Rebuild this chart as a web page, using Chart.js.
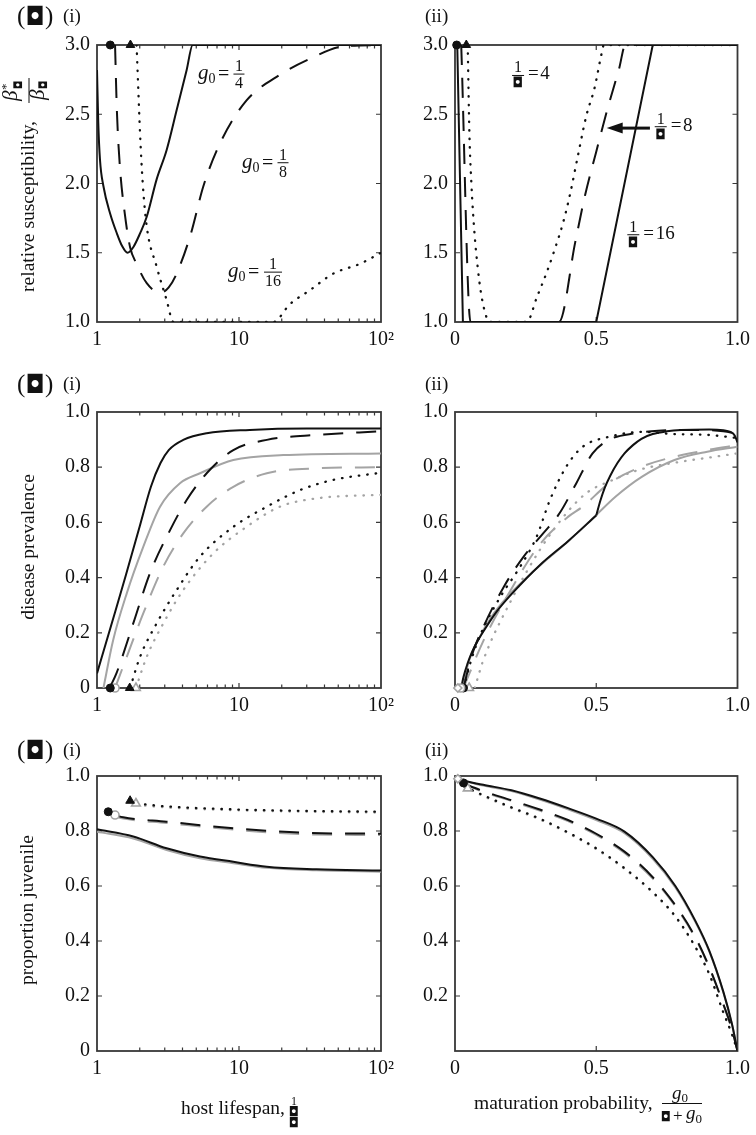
<!DOCTYPE html>
<html>
<head>
<meta charset="utf-8">
<script src="https://cdn.jsdelivr.net/npm/chart.js@4.4.1/dist/chart.umd.min.js"></script>
<style>
html, body { margin: 0; padding: 0; background: #fff; }
#wrap { position: relative; width: 756px; height: 1135px; }
#wrap canvas { position: absolute; left: 0; top: 0; }
</style>
</head>
<body>
<div id="wrap">
<canvas id="a1" width="756" height="1135"></canvas>
<canvas id="a2" width="756" height="1135"></canvas>
<canvas id="b1" width="756" height="1135"></canvas>
<canvas id="b2" width="756" height="1135"></canvas>
<canvas id="c1" width="756" height="1135"></canvas>
<canvas id="c2" width="756" height="1135"></canvas>
</div>
<script>
// Tick values / labels
const logTickValues = [1, 10, 100];
const logTickText = ['1', '10', '10\u00b2'];
const logMinorTicks = [2, 3, 4, 5, 6, 7, 8, 9, 20, 30, 40, 50, 60, 70, 80, 90];

// (a)(i) relative susceptibility vs host lifespan
const a1SolidX = [1, 1.02, 1.05, 1.11, 1.24, 1.38, 1.5, 1.64, 1.8, 2.01, 2.24, 2.63, 3.09, 3.64, 4.28, 4.72, 100];
const a1SolidY = [2.82, 2.45, 2.17, 1.98, 1.78, 1.64, 1.55, 1.50, 1.54, 1.64, 1.76, 2.03, 2.24, 2.53, 2.82, 3.0, 3.0];
const a1DashX = [1.34, 1.38, 1.45, 1.57, 1.71, 1.90, 2.24, 2.78, 3.2, 3.64, 4.59, 5.61, 7.35, 11.3, 18.4, 31.6, 54.3, 100];
const a1DashY = [3.0, 2.53, 2.12, 1.78, 1.54, 1.42, 1.28, 1.21, 1.25, 1.35, 1.64, 1.98, 2.29, 2.60, 2.77, 2.90, 2.99, 3.0];
const a1DotX = [1.90, 1.95, 2.01, 2.1, 2.24, 2.63, 3.09, 3.45, 17.4, 22.9, 31.6, 46.2, 71.1, 100];
const a1DotY = [3.0, 2.7, 2.36, 2.0, 1.69, 1.40, 1.16, 1.0, 1.0, 1.13, 1.23, 1.35, 1.42, 1.50];
const a1MarkX = [1.24, 1.72];
const a1MarkY = [3.0, 3.0];

// (a)(ii) relative susceptibility vs maturation probability
const a2SolidX = [0.008, 0.028, 0.5, 0.70, 1.0];
const a2SolidY = [3.0, 1.0, 1.0, 3.0, 3.0];
const a2DashX = [0.022, 0.055, 0.368, 0.426, 0.461, 0.50, 0.540, 0.581, 0.603, 1.0];
const a2DashY = [3.0, 1.0, 1.0, 1.58, 1.92, 2.23, 2.54, 2.83, 3.0, 3.0];
const a2DotX = [0.045, 0.051, 0.058, 0.069, 0.08, 0.092, 0.105, 0.121, 0.254, 0.29, 0.325, 0.354, 0.383, 0.407, 0.436, 0.465, 0.494, 0.517, 0.527, 1.0];
const a2DotY = [3.0, 2.36, 2.0, 1.64, 1.4, 1.21, 1.08, 1.0, 1.0, 1.18, 1.36, 1.53, 1.72, 1.92, 2.21, 2.49, 2.69, 2.92, 3.0, 3.0];
const a2MarkX = [0.006, 0.04];
const a2MarkY = [3.0, 3.0];

// (b)(i) disease prevalence vs host lifespan
const b1SolidX = [1, 1.25, 1.6, 2.0, 2.4, 2.8, 3.2, 4.05, 5.92, 11.9, 30, 100];
const b1SolidY = [0.053, 0.222, 0.41, 0.586, 0.73, 0.815, 0.862, 0.899, 0.923, 0.935, 0.94, 0.94];
const b1GreySolidX = [1.11, 1.3, 1.62, 2.12, 2.78, 3.84, 5.31, 9.12, 20.5, 100];
const b1GreySolidY = [0, 0.174, 0.343, 0.512, 0.657, 0.742, 0.778, 0.826, 0.844, 0.85];
const b1DashX = [1.24, 1.37, 1.8, 2.36, 3.27, 4.28, 5.92, 9.12, 15.7, 35.2, 100];
const b1DashY = [0.005, 0.053, 0.234, 0.416, 0.572, 0.681, 0.778, 0.862, 0.899, 0.917, 0.93];
const b1GreyDashX = [1.34, 1.62, 2.12, 2.93, 4.05, 5.92, 9.12, 15.7, 35.2, 100];
const b1GreyDashY = [0, 0.113, 0.271, 0.44, 0.56, 0.657, 0.729, 0.778, 0.796, 0.80];
const b1DotX = [1.71, 2.01, 2.63, 3.64, 5.31, 9.12, 15.7, 26.9, 46.2, 100];
const b1DotY = [0, 0.113, 0.234, 0.355, 0.476, 0.584, 0.657, 0.717, 0.754, 0.78];
const b1GreyDotX = [1.88, 2.24, 2.93, 4.05, 6.6, 11.3, 19.4, 35.2, 100];
const b1GreyDotY = [0, 0.113, 0.234, 0.355, 0.488, 0.584, 0.657, 0.687, 0.70];
const b1MarkX = [1.24, 1.34, 1.70, 1.88];
const b1MarkY = [0, 0, 0, 0];

// (b)(ii) disease prevalence vs maturation probability (black solid has a corner at 0.5)
const b2SolidLowX = [0.022, 0.03, 0.045, 0.06, 0.08, 0.11, 0.15, 0.2, 0.3, 0.4, 0.5];
const b2SolidLowY = [0, 0.04, 0.09, 0.13, 0.17, 0.22, 0.28, 0.34, 0.445, 0.532, 0.625];
const b2SolidHighX = [0.5, 0.515, 0.53, 0.55, 0.575, 0.6, 0.63, 0.66, 0.7, 0.75, 0.8, 0.9, 0.95, 0.975, 0.99, 1.0];
const b2SolidHighY = [0.625, 0.68, 0.725, 0.77, 0.815, 0.85, 0.88, 0.903, 0.92, 0.93, 0.935, 0.937, 0.934, 0.928, 0.915, 0.89];
const b2GreySolidX = [0.025, 0.05, 0.08, 0.127, 0.185, 0.254, 0.336, 0.405, 0.498, 0.568, 0.661, 0.777, 0.893, 1.0];
const b2GreySolidY = [0, 0.10, 0.17, 0.255, 0.33, 0.40, 0.475, 0.535, 0.625, 0.693, 0.765, 0.826, 0.856, 0.874];
const b2DashX = [0.03, 0.06, 0.1, 0.173, 0.243, 0.312, 0.37, 0.429, 0.487, 0.545, 0.638, 0.719, 0.85, 0.95, 1.0];
const b2DashY = [0, 0.12, 0.22, 0.367, 0.476, 0.560, 0.633, 0.741, 0.850, 0.899, 0.923, 0.932, 0.935, 0.93, 0.92];
const b2GreyDashX = [0.03, 0.1, 0.2, 0.3, 0.4, 0.452, 0.545, 0.661, 0.777, 0.893, 1.0];
const b2GreyDashY = [0, 0.17, 0.36, 0.52, 0.62, 0.657, 0.741, 0.802, 0.838, 0.862, 0.88];
const b2DotX = [0.03, 0.057, 0.092, 0.161, 0.231, 0.289, 0.336, 0.394, 0.452, 0.545, 0.661, 0.777, 0.893, 1.0];
const b2DotY = [0, 0.10, 0.198, 0.331, 0.44, 0.548, 0.681, 0.802, 0.874, 0.910, 0.928, 0.920, 0.917, 0.906];
const b2GreyDotX = [0.07, 0.1, 0.2, 0.3, 0.4, 0.47, 0.55, 0.65, 0.8, 0.9, 1.0];
const b2GreyDotY = [0, 0.1, 0.32, 0.50, 0.64, 0.71, 0.75, 0.79, 0.82, 0.835, 0.85];
const b2MarkX = [0.01, 0.02, 0.03, 0.05];
const b2MarkY = [0, 0, 0, 0];

// (c)(i) proportion juvenile vs host lifespan
const c1SolidX = [1, 1.8, 3.09, 5.31, 9.12, 15.7, 35.2, 100];
const c1SolidY = [0.806, 0.78, 0.737, 0.707, 0.688, 0.67, 0.661, 0.656];
const c1GreySolidY = [0.797, 0.773, 0.731, 0.701, 0.683, 0.666, 0.657, 0.652];
const c1DashX = [1.34, 1.53, 3.09, 9.12, 26.9, 100];
const c1DashY = [0.858, 0.85, 0.834, 0.81, 0.794, 0.79];
const c1GreyDashY = [0.852, 0.845, 0.829, 0.805, 0.789, 0.785];
const c1DotX = [1.9, 3, 10, 30, 100];
const c1DotY = [0.90, 0.89, 0.878, 0.873, 0.87];
const c1GreyDotY = [0.895, 0.886, 0.875, 0.87, 0.867];
const c1MarkX = [1.2, 1.34, 1.71, 1.88];
const c1MarkY = [0.87, 0.858, 0.91, 0.90];

// (c)(ii) proportion juvenile vs maturation probability
const c2CurveX = [0.1, 0.2, 0.3, 0.4, 0.5, 0.6, 0.7, 0.78, 0.85, 0.9, 0.95, 0.98, 1.0];
const c2SolidY = [0.968, 0.948, 0.918, 0.883, 0.845, 0.798, 0.705, 0.60, 0.475, 0.365, 0.215, 0.1, 0];
const c2GreySolidY = [0.965, 0.945, 0.914, 0.879, 0.840, 0.792, 0.699, 0.595, 0.471, 0.362, 0.213, 0.099, 0];
const c2DashY = [0.945, 0.912, 0.878, 0.84, 0.79, 0.725, 0.632, 0.53, 0.415, 0.305, 0.17, 0.08, 0];
const c2GreyDashY = [0.942, 0.909, 0.874, 0.836, 0.786, 0.72, 0.627, 0.526, 0.412, 0.303, 0.169, 0.079, 0];
const c2DotY = [0.93, 0.886, 0.845, 0.795, 0.737, 0.665, 0.578, 0.49, 0.38, 0.28, 0.14, 0.062, 0];
const c2GreyDotY = [0.927, 0.883, 0.842, 0.792, 0.734, 0.662, 0.575, 0.487, 0.378, 0.278, 0.139, 0.061, 0];
const c2StartX = [0.01, 0.022, 0.034];
const c2StartY = [0.988, 0.976, 0.961];
const c2MarkX = [0.01, 0.03, 0.045];
const c2MarkY = [0.99, 0.975, 0.955];

// ---- styling helpers ----
const BLACK = '#111111';
const GREY = '#a4a4a4';
const FRAME = '#383838';
const SERIF = '"Liberation Serif", "Times New Roman", serif';
const YW = 45, XH = 32;

function pts(xs, ys) {
    return xs.map((x, i) => ({ x: x, y: ys[i] }));
}

function curve(xs, ys, color, kind, smooth) {
    return {
        data: pts(xs, ys),
        borderColor: color,
        borderWidth: kind === 'dot' ? 2.3 : 2,
        borderDash: kind === 'dash' ? [20, 13] : (kind === 'dot' ? [0.5, 8] : []),
        borderCapStyle: kind === 'dot' ? 'round' : 'butt',
        borderJoinStyle: 'round',
        pointRadius: 0,
        fill: false,
        tension: 0,
        cubicInterpolationMode: smooth === false ? 'default' : 'monotone',
        order: color === GREY ? 2 : 1
    };
}

function marks(xs, ys, styles, fills) {
    return xs.map((x, i) => {
        const filled = fills[i];
        const col = filled ? BLACK : GREY;
        return {
            data: [{ x: x, y: ys[i] }],
            showLine: false,
            pointStyle: styles[i],
            pointRadius: styles[i] === 'triangle' ? 5 : 4,
            pointBackgroundColor: filled ? BLACK : '#ffffff',
            pointBorderColor: col,
            pointBorderWidth: filled ? 1 : 1.6,
            clip: false,
            order: 0
        };
    });
}

function font(size, italic) {
    return (italic ? 'italic ' : '') + size + 'px ' + SERIF;
}

function put(ctx, s, x, y, f, align) {
    ctx.font = f;
    ctx.textAlign = align || 'left';
    ctx.textBaseline = 'alphabetic';
    ctx.fillText(s, x, y);
    return ctx.measureText(s).width;
}

// the missing-glyph box used in the source figure
function tofu(ctx, cx, baseY, size) {
    ctx.font = size + 'px "DejaVu Sans"';
    ctx.textAlign = 'center';
    ctx.textBaseline = 'alphabetic';
    ctx.fillText('\u25d8', cx, baseY);
}

function hbar(ctx, x0, x1, y) {
    ctx.beginPath();
    ctx.lineWidth = 1;
    ctx.strokeStyle = '#111';
    ctx.moveTo(x0, y);
    ctx.lineTo(x1, y);
    ctx.stroke();
}

function panelTag(ctx, top, subX) {
    ctx.fillStyle = '#111';
    put(ctx, '(', 17, top + 22, font(25));
    tofu(ctx, 35.5, top + 23, 25);
    put(ctx, ')', 45, top + 22, font(25));
    put(ctx, '(i)', 63, top + 20, font(19));
    put(ctx, '(ii)', subX, top + 20, font(19));
}

function yTitle(ctx, bx, cy, s) {
    ctx.save();
    ctx.translate(bx, cy);
    ctx.rotate(-Math.PI / 2);
    ctx.fillStyle = '#111';
    put(ctx, s, 0, 0, font(19.5), 'center');
    ctx.restore();
}

// frame with inward ticks on all four sides
const framePlugin = {
    id: 'frame',
    beforeDatasetsDraw(chart) {
        const { ctx, chartArea: a, scales } = chart;
        const xs = scales.x, ys = scales.y;
        ctx.save();
        ctx.strokeStyle = FRAME;
        ctx.lineWidth = 1.2;
        ctx.beginPath();
        xs.ticks.forEach(t => {
            const px = xs.getPixelForValue(t.value);
            if (px <= a.left + 1 || px >= a.right - 1) return;
            let len = 5;
            if (xs.type === 'logarithmic') {
                const l = Math.log10(t.value);
                if (Math.abs(l - Math.round(l)) > 1e-9) len = 3.5;
            }
            ctx.moveTo(px, a.bottom); ctx.lineTo(px, a.bottom - len);
            ctx.moveTo(px, a.top); ctx.lineTo(px, a.top + len);
        });
        ys.ticks.forEach(t => {
            const py = ys.getPixelForValue(t.value);
            if (py <= a.top + 1 || py >= a.bottom - 1) return;
            ctx.moveTo(a.left, py); ctx.lineTo(a.left + 5, py);
            ctx.moveTo(a.right, py); ctx.lineTo(a.right - 5, py);
        });
        ctx.stroke();
        ctx.lineWidth = 1.8;
        ctx.strokeRect(a.left, a.top, a.right - a.left, a.bottom - a.top);
        ctx.restore();
    }
};

const tickFont = { family: SERIF, size: 20 };

function logAxis() {
    return {
        type: 'logarithmic', min: 1, max: 100,
        afterBuildTicks: s => {
            s.ticks = logTickValues.concat(logMinorTicks).sort((p, q) => p - q).map(v => ({ value: v }));
        },
        afterFit: s => { s.height = XH; },
        grid: { display: false, drawTicks: false },
        border: { display: false },
        ticks: {
            autoSkip: false, maxRotation: 0, padding: 6, color: '#111',
            font: tickFont,
            callback: v => {
                const i = logTickValues.indexOf(v);
                return i >= 0 ? logTickText[i] : '';
            }
        }
    };
}

function probAxis() {
    return {
        type: 'linear', min: 0, max: 1,
        afterFit: s => { s.height = XH; },
        grid: { display: false, drawTicks: false },
        border: { display: false },
        ticks: {
            stepSize: 0.5, autoSkip: false, maxRotation: 0, padding: 6, color: '#111',
            font: tickFont,
            callback: v => (Math.abs(v) < 1e-9 ? '0' : v.toFixed(1))
        }
    };
}

function valueAxis(min, max, step, showZero) {
    return {
        type: 'linear', min: min, max: max,
        afterFit: s => { s.width = YW; },
        grid: { display: false, drawTicks: false },
        border: { display: false },
        ticks: {
            stepSize: step, autoSkip: false, padding: 7, color: '#111',
            font: tickFont,
            callback: v => (Math.abs(v) < 1e-9 ? (showZero ? '0' : '') : v.toFixed(1))
        }
    };
}

function makeChart(id, area, xAxis, yAxis, datasets, decorate) {
    const [x0, y0, x1, y1] = area;
    return new Chart(document.getElementById(id), {
        type: 'line',
        data: { datasets: datasets },
        options: {
            responsive: false,
            animation: false,
            events: [],
            layout: { padding: { left: x0 - YW, top: y0, right: 756 - x1, bottom: 1135 - y1 - XH } },
            plugins: { legend: { display: false }, tooltip: { enabled: false } },
            scales: { x: xAxis, y: yAxis }
        },
        plugins: [framePlugin, { id: 'notes', afterDraw: decorate }]
    });
}

// ---- annotations ----
function g0Label(chart, xv, yv, den) {
    const ctx = chart.ctx;
    const px = chart.scales.x.getPixelForValue(xv);
    const by = chart.scales.y.getPixelForValue(yv);
    ctx.save();
    ctx.fillStyle = '#111';
    put(ctx, 'g', px, by + 5, font(21, true));
    put(ctx, '0', px + 10.5, by + 9, font(14));
    put(ctx, '=', px + 20, by + 6, font(20));
    const wide = den.length > 1;
    const cx = px + (wide ? 45 : 41);
    put(ctx, '1', cx, by - 3, font(16), 'center');
    put(ctx, den, cx, by + 14, font(16), 'center');
    hbar(ctx, cx - (wide ? 9 : 5.5), cx + (wide ? 9 : 5.5), by);
    ctx.restore();
}

function muLabel(chart, xv, yv, val) {
    const ctx = chart.ctx;
    const px = chart.scales.x.getPixelForValue(xv);
    const by = chart.scales.y.getPixelForValue(yv);
    ctx.save();
    ctx.fillStyle = '#111';
    const cx = px + 6;
    put(ctx, '1', cx, by - 3, font(16), 'center');
    hbar(ctx, cx - 6, cx + 6, by);
    tofu(ctx, cx, by + 12, 14);
    put(ctx, '=\u200a' + val, px + 16, by + 4, font(19));
    ctx.restore();
}

function drawA1(chart) {
    const ctx = chart.ctx;
    panelTag(ctx, 2, 425);
    g0Label(chart, 5.14, 2.79, '4');
    g0Label(chart, 10.5, 2.15, '8');
    g0Label(chart, 8.37, 1.36, '16');
    // y title with fraction
    ctx.save();
    ctx.translate(34, 183);
    ctx.rotate(-Math.PI / 2);
    ctx.fillStyle = '#111';
    put(ctx, 'relative susceptibility,', 62, 0, font(19.5), 'right');
    const u = 92;
    put(ctx, '\u03b2', u - 10, -17, font(21, true));
    put(ctx, '*', u + 1, -24, font(13));
    tofu(ctx, u + 6, -12, 11);
    hbar(ctx, u - 12, u + 13, -5);
    put(ctx, '\u03b2', u - 9, 10, font(21, true));
    tofu(ctx, u + 6, 13, 11);
    ctx.restore();
}

function drawA2(chart) {
    const ctx = chart.ctx;
    muLabel(chart, 0.202, 2.78, '4');
    muLabel(chart, 0.707, 2.41, '8');
    muLabel(chart, 0.61, 1.63, '16');
    // arrow pointing at the dashed curve
    const xs = chart.scales.x, ys = chart.scales.y;
    const tail = xs.getPixelForValue(0.69), tip = xs.getPixelForValue(0.537);
    const py = ys.getPixelForValue(2.4);
    ctx.save();
    ctx.strokeStyle = '#111';
    ctx.fillStyle = '#111';
    ctx.lineWidth = 3;
    ctx.beginPath();
    ctx.moveTo(tail, py);
    ctx.lineTo(tip + 12, py);
    ctx.stroke();
    ctx.beginPath();
    ctx.moveTo(tip, py);
    ctx.lineTo(tip + 16, py - 5.5);
    ctx.lineTo(tip + 16, py + 5.5);
    ctx.closePath();
    ctx.fill();
    ctx.restore();
}

function drawB1(chart) {
    panelTag(chart.ctx, 370, 425);
    yTitle(chart.ctx, 34, 547, 'disease prevalence');
}

function drawB2() {}

function drawC1(chart) {
    const ctx = chart.ctx;
    panelTag(ctx, 736, 425);
    yTitle(ctx, 33, 910, 'proportion juvenile');
    ctx.save();
    ctx.fillStyle = '#111';
    put(ctx, 'host lifespan,', 181, 1114, font(19.5));
    put(ctx, '1', 294, 1105, font(12), 'center');
    tofu(ctx, 294, 1116, 13);
    tofu(ctx, 294, 1127, 13);
    ctx.restore();
}

function drawC2(chart) {
    const ctx = chart.ctx;
    ctx.save();
    ctx.fillStyle = '#111';
    put(ctx, 'maturation probability,', 474, 1109, font(19.5));
    put(ctx, 'g', 672, 1099, font(19, true));
    put(ctx, '0', 681.5, 1102, font(13));
    hbar(ctx, 662, 702, 1103.5);
    tofu(ctx, 666, 1121, 13);
    put(ctx, '+', 673, 1121, font(17));
    put(ctx, 'g', 686, 1119, font(19, true));
    put(ctx, '0', 695.5, 1123, font(13));
    ctx.restore();
}

// ---- charts ----
makeChart('a1', [97, 45, 381, 322], logAxis(), valueAxis(1, 3, 0.5, true), [
    ...marks(a1MarkX, a1MarkY, ['circle', 'triangle'], [true, true]),
    curve(a1SolidX, a1SolidY, BLACK, 'solid'),
    curve(a1DashX, a1DashY, BLACK, 'dash'),
    curve(a1DotX, a1DotY, BLACK, 'dot')
], drawA1);

makeChart('a2', [455, 45, 742, 322], probAxis(), valueAxis(1, 3, 0.5, true), [
    ...marks(a2MarkX, a2MarkY, ['circle', 'triangle'], [true, true]),
    curve(a2SolidX, a2SolidY, BLACK, 'solid', false),
    curve(a2DashX, a2DashY, BLACK, 'dash'),
    curve(a2DotX, a2DotY, BLACK, 'dot')
], drawA2);

makeChart('b1', [97, 412, 381, 688], logAxis(), valueAxis(0, 1, 0.2, true), [
    ...marks(b1MarkX, b1MarkY, ['circle', 'circle', 'triangle', 'triangle'], [true, false, true, false]),
    curve(b1SolidX, b1SolidY, BLACK, 'solid'),
    curve(b1DashX, b1DashY, BLACK, 'dash'),
    curve(b1DotX, b1DotY, BLACK, 'dot'),
    curve(b1GreySolidX, b1GreySolidY, GREY, 'solid'),
    curve(b1GreyDashX, b1GreyDashY, GREY, 'dash'),
    curve(b1GreyDotX, b1GreyDotY, GREY, 'dot')
], drawB1);

makeChart('b2', [455, 412, 742, 688], probAxis(), valueAxis(0, 1, 0.2, false), [
    ...marks(b2MarkX, b2MarkY, ['rectRot', 'circle', 'circle', 'triangle'], [false, false, true, false]),
    curve(b2SolidLowX, b2SolidLowY, BLACK, 'solid'),
    curve(b2SolidHighX, b2SolidHighY, BLACK, 'solid'),
    curve(b2DashX, b2DashY, BLACK, 'dash'),
    curve(b2DotX, b2DotY, BLACK, 'dot'),
    curve(b2GreySolidX, b2GreySolidY, GREY, 'solid'),
    curve(b2GreyDashX, b2GreyDashY, GREY, 'dash'),
    curve(b2GreyDotX, b2GreyDotY, GREY, 'dot')
], drawB2);

makeChart('c1', [97, 776, 381, 1051], logAxis(), valueAxis(0, 1, 0.2, true), [
    ...marks(c1MarkX, c1MarkY, ['circle', 'circle', 'triangle', 'triangle'], [true, false, true, false]),
    curve(c1SolidX, c1SolidY, BLACK, 'solid'),
    curve(c1DashX, c1DashY, BLACK, 'dash'),
    curve(c1DotX, c1DotY, BLACK, 'dot'),
    curve(c1SolidX, c1GreySolidY, GREY, 'solid'),
    curve(c1DashX, c1GreyDashY, GREY, 'dash'),
    curve(c1DotX, c1GreyDotY, GREY, 'dot')
], drawC1);

function withStart(i, ys) {
    return { x: [c2StartX[i]].concat(c2CurveX), y: [c2StartY[i]].concat(ys) };
}
const c2S = withStart(0, c2SolidY), c2GS = withStart(0, c2GreySolidY);
const c2D = withStart(1, c2DashY), c2GD = withStart(1, c2GreyDashY);
const c2T = withStart(2, c2DotY), c2GT = withStart(2, c2GreyDotY);

makeChart('c2', [455, 776, 742, 1051], probAxis(), valueAxis(0, 1, 0.2, false), [
    ...marks(c2MarkX, c2MarkY, ['rectRot', 'circle', 'triangle'], [false, true, false]),
    curve(c2S.x, c2S.y, BLACK, 'solid'),
    curve(c2D.x, c2D.y, BLACK, 'dash'),
    curve(c2T.x, c2T.y, BLACK, 'dot'),
    curve(c2GS.x, c2GS.y, GREY, 'solid'),
    curve(c2GD.x, c2GD.y, GREY, 'dash'),
    curve(c2GT.x, c2GT.y, GREY, 'dot')
], drawC2);
</script>
</body>
</html>
